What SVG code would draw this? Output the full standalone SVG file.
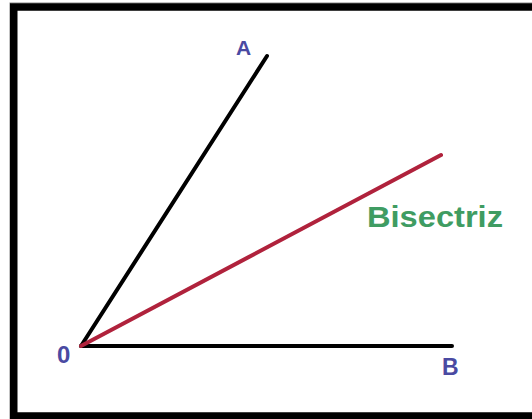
<svg xmlns="http://www.w3.org/2000/svg" width="532" height="419" viewBox="0 0 532 419">
<style>
.lbl{font-family:"Liberation Sans",Arial,sans-serif;font-weight:bold;fill:#4a4aa2}
.ray{stroke:#000;stroke-width:4;stroke-linecap:round;fill:none}
</style>
<rect width="532" height="419" fill="#fff"/>
<g id="frame">
<rect x="10" y="3" width="540" height="430" fill="none" stroke="#888" stroke-width="1"/>
<rect x="13.75" y="7" width="540" height="409" fill="none" stroke="#000" stroke-width="7.5"/>
</g>
<g id="connectors">
<line class="ray" x1="81" y1="346" x2="267" y2="56"/>
<line class="ray" x1="81" y1="346" x2="452" y2="346"/>
<line x1="81" y1="346" x2="441" y2="155" stroke="#b0223c" stroke-width="4" stroke-linecap="round"/>
</g>
<g id="A"><text class="lbl" x="236" y="55" font-size="21">A</text></g>
<g id="O"><text class="lbl" x="57" y="363" font-size="24">0</text></g>
<g id="B"><text class="lbl" x="442" y="375" font-size="23">B</text></g>
<g id="bisectriz"><text x="367" y="227" font-family="'Liberation Sans',Arial,sans-serif" font-weight="bold" font-size="30" fill="#3f9c62" textLength="136" lengthAdjust="spacingAndGlyphs">Bisectriz</text></g>
</svg>
